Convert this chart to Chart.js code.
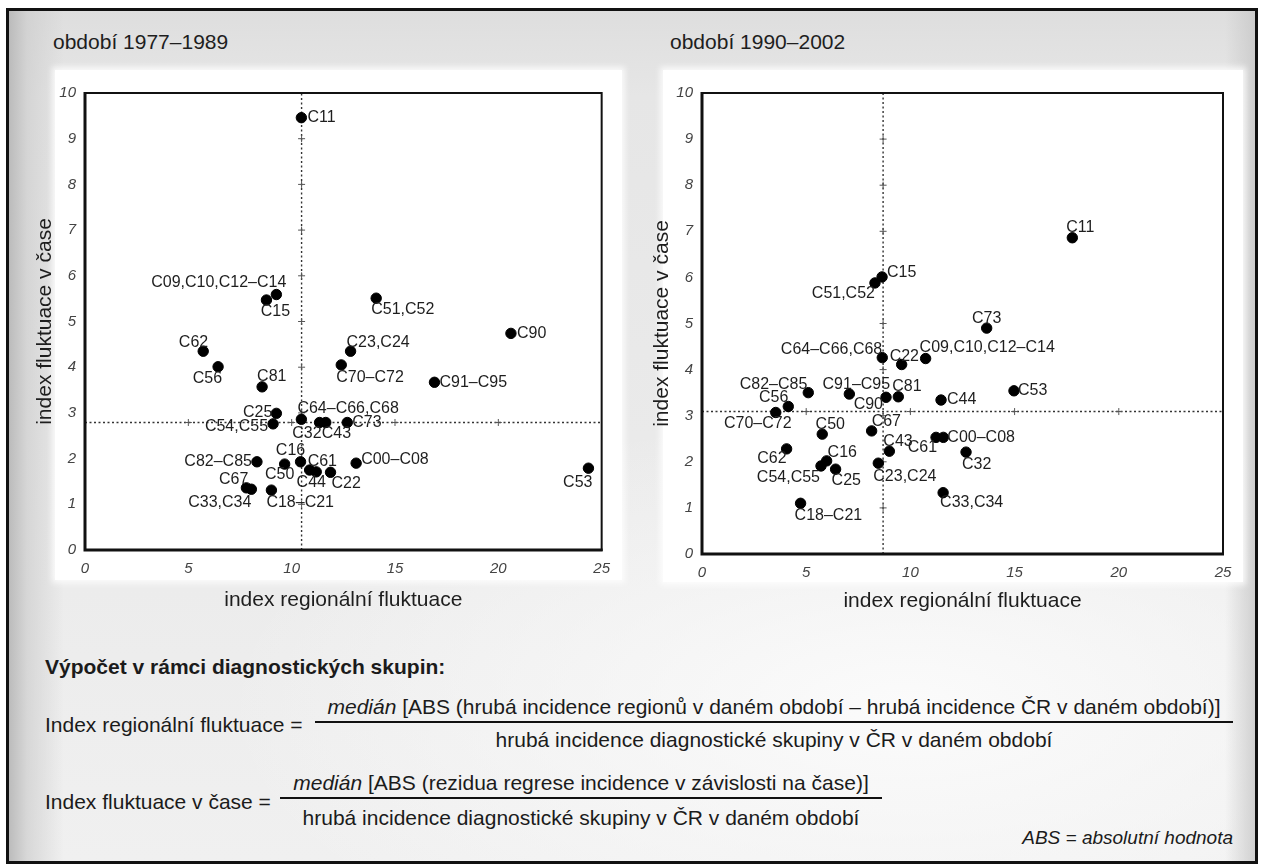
<!DOCTYPE html>
<html lang="cs">
<head>
<meta charset="utf-8">
<title>Index regionální fluktuace a index fluktuace v čase</title>
<script src="https://cdn.jsdelivr.net/npm/chart.js@4.4.1/dist/chart.umd.min.js"></script>
<style>
  html, body { margin: 0; padding: 0; }
  body {
    width: 1262px; height: 868px; position: relative; overflow: hidden;
    background: #ffffff;
    font-family: "Liberation Sans", Arial, Helvetica, sans-serif;
    color: #1b1b1b;
  }
  #frame {
    position: absolute; left: 6px; top: 8px; width: 1252px; height: 856px;
    box-sizing: border-box; border: 3px solid #111;
    background:
      linear-gradient(to right, rgba(185,185,185,0.95) 0px, rgba(205,205,205,0.7) 18px, rgba(225,225,225,0) 55px),
      linear-gradient(to left, rgba(200,200,200,0.8) 0px, rgba(225,225,225,0) 30px),
      radial-gradient(ellipse 55% 35% at 72% 82%, #fbfbfb 0%, rgba(250,250,250,0) 100%),
      linear-gradient(to bottom, #dedede 0%, #e6e6e6 10%, #ebebeb 60%, #f0f0f0 100%);
  }
  .panel {
    position: absolute; background: #fff;
    box-shadow: 0 0 6px 3px rgba(255,255,255,0.8);
  }
  .period {
    position: absolute; font-size: 21px; line-height: 24px; color: #1e1e1e; white-space: nowrap;
  }
  canvas { position: absolute; }
  .txt { position: absolute; font-size: 21px; line-height: 24px; white-space: nowrap; color: #1b1b1b; }
  .rule { position: absolute; height: 2px; background: #111; }
  .ctr { text-align: center; }
  i { font-style: italic; }
</style>
</head>
<body>
<div id="frame"></div>
<div class="panel" style="left:55px; top:70px; width:567px; height:510px;"></div>
<div class="panel" style="left:663px; top:70px; width:580px; height:512px;"></div>

<div class="period" style="left:53px; top:30px;">období 1977–1989</div>
<div class="period" style="left:670px; top:30px;">období 1990–2002</div>

<canvas id="chartA" width="600" height="560" style="left:20px; top:60px;"></canvas>
<canvas id="chartB" width="610" height="560" style="left:640px; top:60px;"></canvas>

<div class="txt" style="left:45px; top:655px; font-weight:bold;">Výpočet v rámci diagnostických skupin:</div>

<div class="txt" style="left:45px; top:713px;">Index regionální fluktuace =</div>
<div class="txt ctr" style="left:315px; width:918px; top:695px;"><i>medián</i> [ABS (hrubá incidence regionů v daném období – hrubá incidence ČR v daném období)]</div>
<div class="rule" style="left:315px; width:918px; top:721px;"></div>
<div class="txt ctr" style="left:315px; width:918px; top:728px;">hrubá incidence diagnostické skupiny v ČR v daném období</div>

<div class="txt" style="left:45px; top:790px;">Index fluktuace v čase =</div>
<div class="txt ctr" style="left:280px; width:602px; top:771px;"><i>medián</i> [ABS (rezidua regrese incidence v závislosti na čase)]</div>
<div class="rule" style="left:280px; width:602px; top:797px;"></div>
<div class="txt ctr" style="left:280px; width:602px; top:806px;">hrubá incidence diagnostické skupiny v ČR v daném období</div>

<div class="txt" style="right:29px; top:826px; font-size:19px; font-style:italic;">ABS = absolutní hodnota</div>

<script>
// ---- 1977–1989 ----
const groups1977 = ['C11', 'C09,C10,C12–C14', 'C15', 'C51,C52', 'C62', 'C56', 'C81', 'C23,C24', 'C70–C72',
  'C25', 'C54,C55', 'C64–C66,C68', 'C32', 'C43', 'C73', 'C82–C85', 'C50', 'C16', 'C61', 'C44', 'C22',
  'C00–C08', 'C67', 'C33,C34', 'C18–C21', 'C90', 'C91–C95', 'C53'];
const regional1977 = [10.47, 9.26, 8.78, 14.09, 5.72, 6.44, 8.57, 12.85, 12.40,
  9.26, 9.10, 10.47, 11.35, 11.65, 12.69, 8.32, 9.66, 10.43, 10.87, 11.19, 11.88,
  13.12, 7.81, 8.05, 9.02, 20.61, 16.91, 24.36];
const temporal1977 = [9.46, 5.59, 5.47, 5.51, 4.35, 4.01, 3.57, 4.35, 4.05,
  2.99, 2.76, 2.86, 2.79, 2.79, 2.79, 1.93, 1.88, 1.93, 1.75, 1.71, 1.70,
  1.90, 1.36, 1.33, 1.31, 4.74, 3.67, 1.79];
const median1977 = { x: 10.48, y: 2.79 };

// ---- 1990–2002 ----
const groups1990 = ['C11', 'C73', 'C09,C10,C12–C14', 'C64–C66,C68', 'C22', 'C15', 'C51,C52', 'C82–C85',
  'C91–C95', 'C81', 'C90', 'C44', 'C53', 'C56', 'C70–C72', 'C50', 'C67', 'C43', 'C61', 'C00–C08',
  'C32', 'C62', 'C16', 'C54,C55', 'C25', 'C23,C24', 'C18–C21', 'C33,C34'];
const regional1990 = [17.77, 13.66, 10.73, 8.65, 9.58, 8.64, 8.30, 5.10,
  7.07, 9.42, 8.83, 11.47, 14.97, 4.14, 3.54, 5.77, 8.14, 8.99, 11.23, 11.58,
  12.67, 4.06, 5.98, 5.71, 6.41, 8.46, 4.73, 11.57];
const temporal1990 = [6.86, 4.90, 4.24, 4.26, 4.11, 6.01, 5.88, 3.50,
  3.47, 3.41, 3.40, 3.34, 3.54, 3.20, 3.07, 2.60, 2.67, 2.23, 2.53, 2.53,
  2.21, 2.28, 2.02, 1.91, 1.84, 1.97, 1.10, 1.33];
const median1990 = { x: 8.69, y: 3.09 };

// axis ticks
const xTicks = [0, 5, 10, 15, 20, 25];
const yTicks = [0, 1, 2, 3, 4, 5, 6, 7, 8, 9, 10];
// small cross marks along the median lines
const crossAlongX = [5, 10, 15, 20];
const crossAlongY = [1, 2, 3, 4, 5, 6, 7, 8, 9];

// label placement next to each dot: [dx, dy, textAlign]
const place1977 = [
  [6, 0, 'left'], [10, -12, 'right'], [9, 12, 'center'], [-5, 11, 'left'], [5, -9, 'right'],
  [4, 12, 'right'], [-5, -10, 'left'], [-4, -9, 'left'], [-5, 13, 'left'],
  [-4, -1, 'right'], [-5, 3, 'right'], [-4, -11, 'left'], [2, 11, 'right'], [-4, 11, 'left'],
  [5, 0, 'left'], [-5, 0, 'right'], [-5, 11, 'center'], [-10, -11, 'center'], [-2, -8, 'left'],
  [-5, 11, 'center'], [1, 11, 'left'], [5, -4, 'left'], [2, -8, 'right'], [0, 13, 'right'],
  [-5, 12, 'left'], [6, 0, 'left'], [5, 0, 'left'], [4, 14, 'right']
];
const place1990 = [
  [8, -10, 'center'], [0, -10, 'center'], [-6, -11, 'left'], [0, -8, 'right'], [-12, -8, 'left'],
  [5, -4, 'left'], [0, 11, 'right'], [-1, -8, 'right'], [7, -9, 'center'], [-6, -10, 'left'],
  [-3, 7, 'right'], [6, 0, 'left'], [4, 0, 'left'], [0, -9, 'right'], [-18, 11, 'center'],
  [8, -10, 'center'], [0, -9, 'left'], [-6, -10, 'left'], [1, 10, 'right'], [4, 0, 'left'],
  [-4, 12, 'left'], [0, 10, 'right'], [1, -8, 'left'], [-1, 12, 'right'], [-4, 11, 'left'],
  [-5, 13, 'left'], [-6, 12, 'left'], [-3, 10, 'left']
];

const FONT = '"Liberation Sans", Arial, Helvetica, sans-serif';

// dot labels
const pointLabels = {
  id: 'pointLabels',
  afterDatasetsDraw(chart, args, opts) {
    const meta = chart.getDatasetMeta(0);
    const ctx = chart.ctx;
    ctx.save();
    ctx.font = '16px ' + FONT;
    ctx.fillStyle = '#1e1e1e';
    ctx.textBaseline = 'middle';
    meta.data.forEach((el, i) => {
      const p = opts.place[i];
      ctx.textAlign = p[2];
      ctx.fillText(opts.names[i], el.x + p[0], el.y + p[1]);
    });
    ctx.restore();
  }
};

// plot frame: thin top/right, heavier left/bottom
const plotFrame = {
  id: 'plotFrame',
  afterDraw(chart) {
    const { ctx, chartArea: a } = chart;
    ctx.save();
    ctx.strokeStyle = '#111';
    ctx.lineWidth = 2;
    ctx.strokeRect(a.left, a.top, a.right - a.left, a.bottom - a.top);
    ctx.lineWidth = 3;
    ctx.beginPath();
    ctx.moveTo(a.left, a.top - 1);
    ctx.lineTo(a.left, a.bottom);
    ctx.lineTo(a.right + 1, a.bottom);
    ctx.stroke();
    ctx.restore();
  }
};

function makeChart(id, names, xs, ys, med, place, geo) {
  const pts = xs.map((x, i) => ({ x: x, y: ys[i] }));
  const crosses = crossAlongY.map(v => ({ x: med.x, y: v }))
    .concat(crossAlongX.map(v => ({ x: v, y: med.y })));
  return new Chart(document.getElementById(id), {
    type: 'scatter',
    data: {
      datasets: [
        { data: pts, backgroundColor: '#000', borderColor: '#000', pointRadius: 5.2, pointHoverRadius: 5.2, order: 0 },
        { type: 'line', data: [{ x: med.x, y: 0 }, { x: med.x, y: 10 }], borderColor: '#333', borderWidth: 1.4,
          borderDash: [2, 2.5], pointRadius: 0, fill: false, order: 3 },
        { type: 'line', data: [{ x: 0, y: med.y }, { x: 25, y: med.y }], borderColor: '#333', borderWidth: 1.4,
          borderDash: [2, 2.5], pointRadius: 0, fill: false, order: 3 },
        { data: crosses, pointStyle: 'cross', pointRadius: 3.5, borderColor: '#555', borderWidth: 1,
          backgroundColor: '#555', order: 2 }
      ]
    },
    options: {
      responsive: false,
      animation: false,
      devicePixelRatio: 1,
      events: [],
      layout: { padding: { top: geo.top, right: geo.right, bottom: 0, left: 0 } },
      plugins: {
        legend: { display: false },
        tooltip: { enabled: false },
        pointLabels: { names: names, place: place }
      },
      scales: {
        x: {
          type: 'linear', min: 0, max: 25,
          afterBuildTicks: s => { s.ticks = xTicks.map(v => ({ value: v })); },
          afterFit: s => { s.height = geo.xh; },
          grid: { display: false, drawTicks: false },
          border: { display: false },
          ticks: { padding: 10, color: '#444', font: { family: FONT, size: 15, style: 'italic' } },
          title: { display: true, text: 'index regionální fluktuace', color: '#1e1e1e',
                   font: { family: FONT, size: 21 }, padding: { top: 0, bottom: geo.xtp } }
        },
        y: {
          type: 'linear', min: 0, max: 10,
          afterBuildTicks: s => { s.ticks = yTicks.map(v => ({ value: v })); },
          afterFit: s => { s.width = geo.yw; },
          grid: { display: false, drawTicks: false },
          border: { display: false },
          ticks: { padding: 9, color: '#444', font: { family: FONT, size: 15, style: 'italic' } },
          title: { display: true, text: 'index fluktuace v čase', color: '#1e1e1e',
                   font: { family: FONT, size: 21 }, padding: { top: geo.ytp, bottom: 0 } }
        }
      }
    },
    plugins: [pointLabels, plotFrame]
  });
}

makeChart('chartA', groups1977, regional1977, temporal1977, median1977, place1977,
  { top: 33, right: 18, xh: 70, yw: 65, ytp: 12.4, xtp: 7.4 });
makeChart('chartB', groups1990, regional1990, temporal1990, median1990, place1990,
  { top: 33, right: 27, xh: 66, yw: 62, ytp: 9.4, xtp: 6.4 });
</script>
</body>
</html>
